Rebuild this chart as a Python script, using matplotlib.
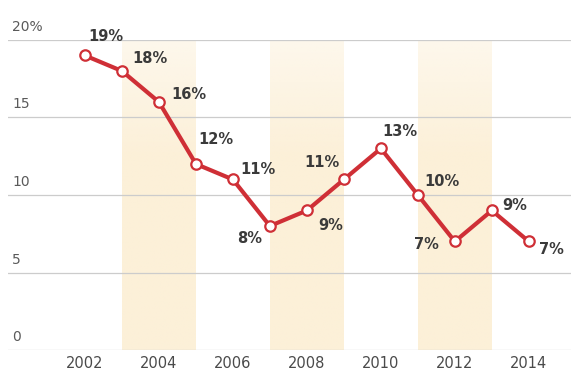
import matplotlib
matplotlib.use("Agg")
import matplotlib.pyplot as plt
import matplotlib.transforms as mtransforms
import numpy as np

years = [2002, 2003, 2004, 2005, 2006, 2007, 2008, 2009, 2010, 2011, 2012, 2013, 2014]
values = [19, 18, 16, 12, 11, 8, 9, 11, 13, 10, 7, 9, 7]
value_labels = ["19%", "18%", "16%", "12%", "11%", "8%", "9%", "11%", "13%", "10%", "7%", "9%", "7%"]
yticks = [0, 5, 10, 15, 20]
ytick_labels = ["0", "5", "10", "15", "20%"]
xticks = [2002, 2004, 2006, 2008, 2010, 2012, 2014]
xtick_labels = ["2002", "2004", "2006", "2008", "2010", "2012", "2014"]
bands = [(2003, 2005), (2007, 2009), (2011, 2013)]

# label offsets in pixels (dx, dy) relative to each point
label_offsets = [(21, 19), (28, 12), (30, 7), (20, 24), (25, 10), (-20, -13),
                 (24, -15), (-22, 17), (19, 17), (24, 13), (-28, -3), (23, 5), (23, -8)]

W, H = 571, 372
fig = plt.figure(figsize=(W / 100, H / 100), dpi=100)
ax = fig.add_axes([8 / W, 22 / H, 563 / W, 310 / H])
ax.axis("off")

red = "#cf2f36"
txt_dark = "#3a3a3a"
grid_c = "#cccccc"

# bands with a light vertical gradient (slightly fading toward the top)
band_rgb = np.array([252, 240, 216]) / 255.0
pos = np.linspace(0, 1, 256)  # 0 = top, 1 = bottom
alpha = np.clip(0.45 + pos * 1.4, 0, 1.0)
img = np.zeros((256, 1, 4))
img[:, 0, :3] = band_rgb
img[:, 0, 3] = alpha
for (a, b) in bands:
    ax.imshow(img, extent=(a, b, 0, 20.5), aspect="auto", zorder=0,
              interpolation="bilinear", origin="upper")
ax.set_xlim(1999.92, 2015.14)
ax.set_ylim(0, 20)

# gridlines
for t in yticks:
    ax.axhline(t, color=grid_c, lw=0.9, zorder=1)

# y tick labels
trans = mtransforms.blended_transform_factory(ax.transAxes, ax.transData)
for t, lab in zip(yticks, ytick_labels):
    ax.annotate(lab, xy=(0, t), xycoords=trans, xytext=(4, 6), textcoords="offset pixels",
                ha="left", va="bottom", fontsize=10, color="#5a5a5a", annotation_clip=False)

# x tick labels
for t, lab in zip(xticks, xtick_labels):
    ax.annotate(lab, xy=(t, 0), xycoords="data", xytext=(0, -6), textcoords="offset pixels",
                ha="center", va="top", fontsize=10.5, color="#4a4a4a", annotation_clip=False)

# line
ax.plot(years, values, color=red, lw=3.0, zorder=3, solid_joinstyle="round")
ax.plot(years, values, linestyle="none", marker="o", markersize=7.5,
        markerfacecolor="white", markeredgecolor=red, markeredgewidth=1.6, zorder=4)

# value labels
for x, y, lab, (dx, dy) in zip(years, values, value_labels, label_offsets):
    ax.annotate(lab, xy=(x, y), xytext=(dx, dy), textcoords="offset pixels",
                ha="center", va="center", fontsize=10.5, fontweight="bold",
                color=txt_dark, zorder=5, annotation_clip=False)

fig.savefig("out.png", dpi=100)
